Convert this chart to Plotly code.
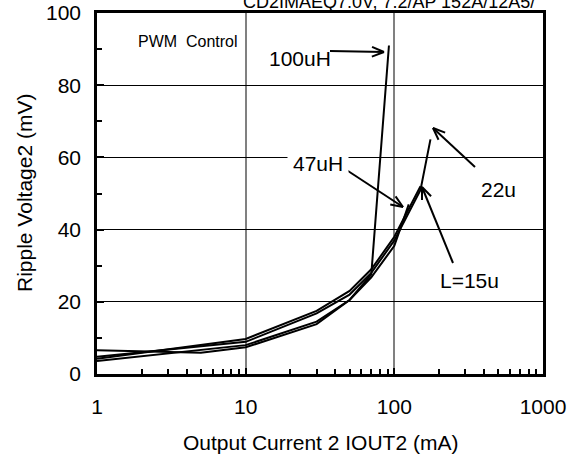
import math
import plotly.graph_objects as go

# ---- data ----
I_15 = [1, 10, 30, 50, 70, 100, 150]
V_15 = [4.2, 9.7, 17.5, 23, 29, 38, 52]
I_22 = [1, 10, 30, 50, 70, 100, 150, 175]
V_22 = [4.8, 8.9, 16.8, 22, 28, 37, 51, 65]
I_47 = [1, 10, 30, 50, 70, 100, 125]
V_47 = [3.6, 8.0, 14.5, 20.5, 26.8, 35.5, 47]
I_100 = [1, 5, 10, 30, 50, 70, 92]
V_100 = [6.6, 5.9, 7.4, 13.8, 20.5, 27.6, 91]

x_tickvals = [1, 10, 100, 1000]
x_ticktext = ["1", "10", "100", "1000"]
y_tickvals = [0, 20, 40, 60, 80, 100]

FONT = "Liberation Sans, Arial, sans-serif"
W, H = 579, 460
L, R, T, B = 97, 36, 13, 86
PW, PH = W - L - R, H - T - B


def px2paper(px, py):
    return (px - L) / PW, (H - B - py) / PH


fig = go.Figure()
for xs, ys, name in [(I_15, V_15, "L=15u"), (I_22, V_22, "22u"),
                     (I_47, V_47, "47uH"), (I_100, V_100, "100uH")]:
    fig.add_trace(go.Scatter(x=xs, y=ys, mode="lines", name=name,
                             line=dict(color="black", width=2),
                             showlegend=False))

shapes = []


def arrow(tail, tip, head=13, ang=22):
    x0, y0 = px2paper(*tail)
    x1, y1 = px2paper(*tip)
    shapes.append(dict(type="line", xref="paper", yref="paper",
                       x0=x0, y0=y0, x1=x1, y1=y1,
                       line=dict(color="black", width=2)))
    dx, dy = tail[0] - tip[0], tail[1] - tip[1]
    a = math.atan2(dy, dx)
    for s in (-1, 1):
        b = a + s * math.radians(ang)
        hx, hy = tip[0] + head * math.cos(b), tip[1] + head * math.sin(b)
        hx, hy = px2paper(hx, hy)
        shapes.append(dict(type="line", xref="paper", yref="paper",
                           x0=x1, y0=y1, x1=hx, y1=hy,
                           line=dict(color="black", width=2)))


arrow((330, 51), (384, 52))
arrow((345, 169), (403, 207))
arrow((475, 167), (433, 128))
arrow((453, 263), (422, 187))

# white gap in the vertical grid line (text box artefact)
gx0, gy0 = px2paper(243, 58)
gx1, gy1 = px2paper(251, 25)
shapes.append(dict(type="rect", xref="paper", yref="paper", layer="between",
                   x0=gx0, y0=gy0, x1=gx1, y1=gy1,
                   fillcolor="white", line=dict(width=0)))

annotations = []


def label(text, px, py, size=21, bg=None, pad=1, angle=0):
    x, y = px2paper(px, py)
    d = dict(text=text, x=x, y=y, xref="paper", yref="paper",
             xanchor="center", yanchor="middle", showarrow=False,
             textangle=angle,
             font=dict(family=FONT, size=size, color="black"))
    if bg:
        d["bgcolor"] = bg
        d["borderpad"] = pad
    annotations.append(d)


label("PWM  Control", 188, 41, size=16)
label("100uH", 300, 58)
label("47uH", 318, 163, bg="white", pad=5)
label("22u", 498, 189)
label("L=15u", 469, 280)
label("CD2IMAEQ7.0V, 7.2/AP 152A/12A5/", 389, 2, size=18)
label("Output Current 2 IOUT2 (mA)", 320, 442)
label("Ripple Voltage2 (mV)", 24, 193, angle=-90)

fig.update_layout(
    width=W, height=H,
    margin=dict(l=L, r=R, t=T, b=B, pad=0, autoexpand=False),
    paper_bgcolor="white", plot_bgcolor="white",
    font=dict(family=FONT, size=21, color="black"),
    shapes=shapes, annotations=annotations,
    xaxis=dict(
        type="log", range=[0, 3], automargin=False,
        tickmode="array", tickvals=x_tickvals, ticktext=x_ticktext,
        ticks="inside", ticklen=6, tickwidth=2, tickcolor="black",
        ticklabelstandoff=12,
        minor=dict(ticks="inside", ticklen=5, tickwidth=2, tickcolor="black",
                   dtick="D1", showgrid=False),
        showgrid=True, gridcolor="#808080", gridwidth=1.5,
        showline=True, linecolor="black", linewidth=2.5, mirror=True,
        zeroline=False,
        tickfont=dict(size=21),
    ),
    yaxis=dict(
        range=[0, 100], automargin=False,
        tickmode="array", tickvals=y_tickvals,
        ticks="inside", ticklen=7, tickwidth=2, tickcolor="black",
        ticklabelstandoff=9,
        minor=dict(ticks="inside", ticklen=5, tickwidth=2, tickcolor="black",
                   dtick=10, showgrid=False),
        showgrid=True, gridcolor="black", gridwidth=1,
        showline=True, linecolor="black", linewidth=2.5, mirror=True,
        zeroline=False,
        tickfont=dict(size=21),
    ),
)

fig.write_html(
    "out.html",
    include_plotlyjs=True,
    config={"displayModeBar": False},
    post_script="document.body.style.margin='0';document.body.style.overflow='hidden';",
)
